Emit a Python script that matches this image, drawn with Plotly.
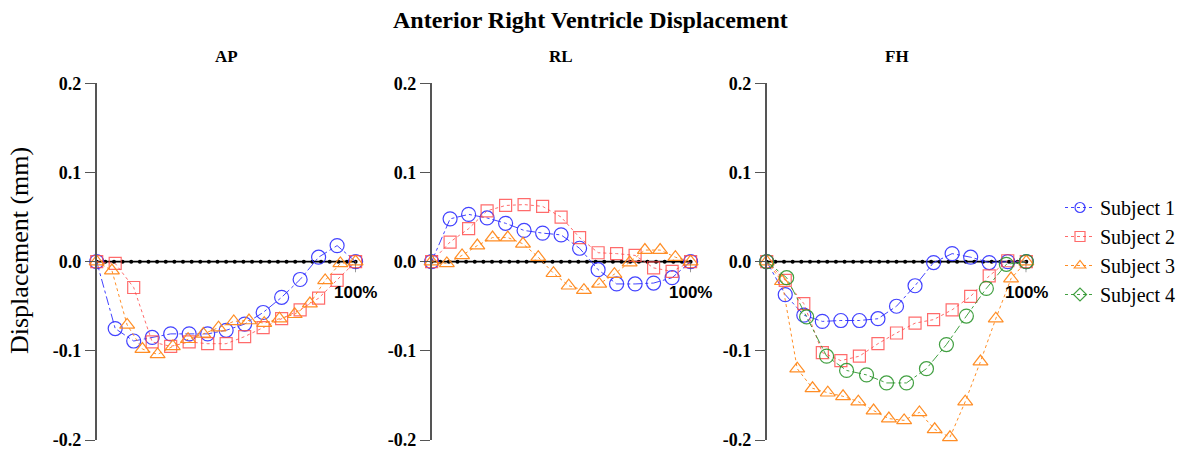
import plotly.graph_objects as go

W, H = 1189, 451

# Sample positions across the cycle (% of cycle) for each subject
pct15 = [0, 7.14, 14.29, 21.43, 28.57, 35.71, 42.86, 50, 57.14, 64.29, 71.43, 78.57, 85.71, 92.86, 100]
pct18 = [0, 5.88, 11.76, 17.65, 23.53, 29.41, 35.29, 41.18, 47.06, 52.94, 58.82, 64.71, 70.59,
         76.47, 82.35, 88.24, 94.12, 100]
pct14 = [0, 7.69, 15.38, 23.08, 30.77, 38.46, 46.15, 53.85, 61.54, 69.23, 76.92, 84.62, 92.31, 100]

# Dotted zero reference line
ref_pct = [0, 3.33, 6.67, 10, 13.33, 16.67, 20, 23.33, 26.67, 30, 33.33, 36.67, 40, 43.33, 46.67,
           50, 53.33, 56.67, 60, 63.33, 66.67, 70, 73.33, 76.67, 80, 83.33, 86.67, 90, 93.33, 96.67, 100]
ref_zero = [0] * len(ref_pct)

# AP displacement (mm)
ap_s1 = [0, -0.075, -0.089, -0.085, -0.081, -0.081, -0.081, -0.077, -0.070, -0.057, -0.040, -0.020, 0.005, 0.018, 0]
ap_s2 = [0, -0.002, -0.029, -0.090, -0.095, -0.090, -0.092, -0.092, -0.084, -0.074, -0.064, -0.054, -0.041, -0.021, 0]
ap_s3 = [0, -0.010, -0.071, -0.098, -0.104, -0.095, -0.087, -0.081, -0.074, -0.067, -0.066, -0.069,
         -0.064, -0.059, -0.047, -0.021, -0.002, 0]

# RL displacement (mm)
rl_s1 = [0, 0.048, 0.053, 0.049, 0.043, 0.035, 0.032, 0.030, 0.015, -0.009, -0.025, -0.025, -0.024, -0.018, 0]
rl_s2 = [0, 0.022, 0.037, 0.057, 0.063, 0.064, 0.062, 0.050, 0.027, 0.010, 0.009, 0.007, -0.007, -0.011, 0]
rl_s3 = [0, -0.002, 0.007, 0.018, 0.027, 0.027, 0.020, 0.005, -0.013, -0.027, -0.032, -0.025,
         -0.014, -0.001, 0.013, 0.013, 0.005, 0]

# FH displacement (mm)
fh_s1 = [0, -0.037, -0.060, -0.067, -0.066, -0.066, -0.064, -0.050, -0.027, -0.001, 0.009, 0.005, -0.001, 0, 0]
fh_s2 = [0, -0.021, -0.047, -0.102, -0.111, -0.106, -0.092, -0.080, -0.069, -0.065, -0.054, -0.039, -0.016, 0.001, 0]
fh_s3 = [0, -0.022, -0.120, -0.142, -0.147, -0.151, -0.157, -0.167, -0.176, -0.178, -0.169, -0.188,
         -0.197, -0.157, -0.112, -0.064, -0.019, 0]
fh_s4 = [0, -0.018, -0.062, -0.106, -0.122, -0.127, -0.136, -0.136, -0.120, -0.093, -0.061, -0.030, -0.003, 0]

panel_names = ["AP", "RL", "FH"]
y_ticks = [0.2, 0.1, 0.0, -0.1, -0.2]
y_tick_text = ["0.2", "0.1", "0.0", "-0.1", "-0.2"]
subjects = ["Subject 1", "Subject 2", "Subject 3", "Subject 4"]

style = {
    "Subject 1": dict(color="rgba(45,45,255,0.9)", symbol="circle-open", size=14, dash="dashdot", leg="circle-open"),
    "Subject 2": dict(color="rgba(255,70,70,0.8)", symbol="square-open", size=12, dash="dot", leg="square-open"),
    "Subject 3": dict(color="rgba(255,135,25,0.95)", symbol="triangle-up-open", size=13, dash="dot", leg="triangle-up-open"),
    "Subject 4": dict(color="rgba(45,150,45,0.9)", symbol="circle-open", size=14, dash="dashdot", leg="diamond-open"),
}

panel_data = [
    [("Subject 1", pct15, ap_s1), ("Subject 2", pct15, ap_s2), ("Subject 3", pct18, ap_s3)],
    [("Subject 1", pct15, rl_s1), ("Subject 2", pct15, rl_s2), ("Subject 3", pct18, rl_s3)],
    [("Subject 1", pct15, fh_s1), ("Subject 2", pct15, fh_s2), ("Subject 3", pct18, fh_s3),
     ("Subject 4", pct14, fh_s4)],
]

x_px = [(96.7, 355.6), (431.6, 690.6), (766.7, 1026.3)]
y_px = (83.3, 440.0)
y_dom = [1 - y_px[1] / H, 1 - y_px[0] / H]

SERIF = "Liberation Serif"
SANS = "Liberation Sans"
AXIS_GREY = "#555555"

fig = go.Figure()

for i, series in enumerate(panel_data):
    xa = "x" if i == 0 else f"x{i + 1}"
    ya = "y" if i == 0 else f"y{i + 1}"
    # zero reference line with dots
    fig.add_trace(go.Scatter(
        x=ref_pct, y=ref_zero, xaxis=xa, yaxis=ya, mode="lines+markers",
        line=dict(color="black", width=1.6), marker=dict(color="black", size=4),
        showlegend=False, hoverinfo="skip", cliponaxis=False))
    for name, xs, ys in series:
        s = style[name]
        fig.add_trace(go.Scatter(
            x=xs, y=ys, xaxis=xa, yaxis=ya, mode="lines+markers", name=name,
            line=dict(color=s["color"], width=1, dash=s["dash"]),
            marker=dict(symbol=s["symbol"], size=s["size"], color=s["color"], line=dict(width=1.2)),
            showlegend=False, cliponaxis=False))

# legend entries
for name in subjects:
    s = style[name]
    fig.add_trace(go.Scatter(
        x=[None], y=[None], mode="lines+markers", name=name,
        line=dict(color=s["color"], width=1, dash="dot"),
        marker=dict(symbol=s["leg"], size=10, color=s["color"], line=dict(width=1.2)),
        showlegend=True))

layout = dict(
    width=W, height=H, autosize=False,
    margin=dict(l=0, r=0, t=0, b=0, pad=0, autoexpand=False),
    paper_bgcolor="white", plot_bgcolor="white",
    showlegend=True,
    legend=dict(x=1060 / W, y=1 - 251 / H, xanchor="left", yanchor="middle",
                font=dict(family=SERIF, size=20, color="black"),
                bgcolor="rgba(0,0,0,0)", tracegroupgap=0, itemwidth=30),
)

annotations = []
shapes = []
for i, name in enumerate(panel_names):
    suffix = "" if i == 0 else str(i + 1)
    x0, x1 = x_px[i]
    layout[f"xaxis{suffix}"] = dict(
        domain=[x0 / W, x1 / W], range=[0, 100], visible=False, automargin=False,
        anchor=f"y{suffix}", fixedrange=True)
    layout[f"yaxis{suffix}"] = dict(
        domain=y_dom, range=[-0.2, 0.2], anchor=f"x{suffix}", automargin=False,
        tickmode="array", tickvals=y_ticks, ticktext=y_tick_text,
        ticks="outside", ticklen=10, tickwidth=1.3, tickcolor=AXIS_GREY,
        showline=True, linecolor=AXIS_GREY, linewidth=1.5,
        showgrid=False, zeroline=False,
        tickfont=dict(family=SERIF, size=18, color="black", weight="bold"))
    annotations.append(dict(
        text=f"<b>{name}</b>", xref="paper", yref="paper",
        x=(x0 + x1) / 2 / W, y=1 - 57 / H, xanchor="center", yanchor="middle",
        showarrow=False, font=dict(family=SERIF, size=17, color="black")))
    annotations.append(dict(
        text="<b>100%</b>", xref=f"x{suffix}", yref=f"y{suffix}",
        x=100, y=-0.0345, xanchor="center", yanchor="middle",
        showarrow=False, font=dict(family=SANS, size=17, color="black")))
    shapes.append(dict(
        type="line", xref=f"x{suffix}", yref=f"y{suffix}",
        x0=100, x1=100, y0=0, y1=-0.012, line=dict(color=AXIS_GREY, width=1.2)))

annotations.append(dict(
    text="<b>Anterior Right Ventricle Displacement</b>", xref="paper", yref="paper",
    x=590 / W, y=1 - 20 / H, xanchor="center", yanchor="middle", showarrow=False,
    font=dict(family=SERIF, size=24, color="black")))
annotations.append(dict(
    text="Displacement (mm)", xref="paper", yref="paper",
    x=19 / W, y=1 - 251 / H, xanchor="center", yanchor="middle", showarrow=False,
    textangle=-90, font=dict(family=SERIF, size=26, color="black")))

layout["annotations"] = annotations
layout["shapes"] = shapes
fig.update_layout(**layout)

fig.write_html("out.html")
